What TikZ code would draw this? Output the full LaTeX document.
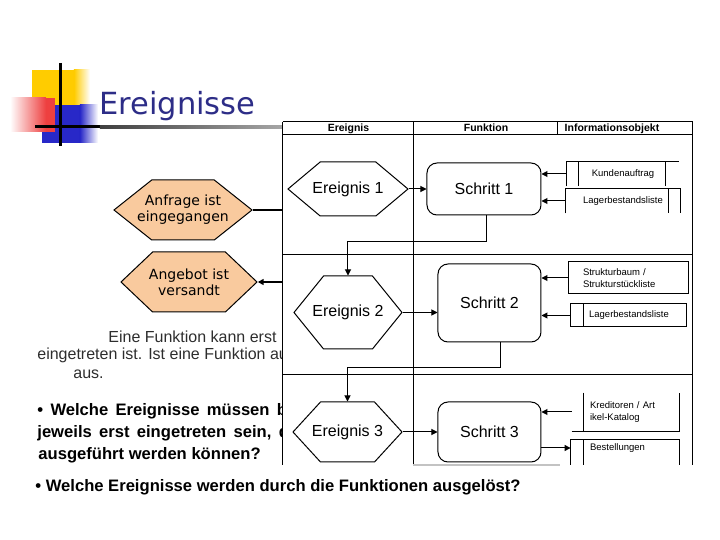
\documentclass[tikz,border=0pt]{standalone}
\usepackage{fontspec}
\setmainfont{Liberation Sans}
\newfontfamily\titlefont{DejaVu Sans}
\usepackage{tikz}
\usetikzlibrary{arrows.meta,calc,shapes.symbols}
\definecolor{titleblue}{RGB}{45,45,135}
\definecolor{decoyellow}{RGB}{255,204,0}
\definecolor{decoblue}{RGB}{40,40,200}
\definecolor{decored}{RGB}{235,30,30}
\definecolor{peach}{RGB}{249,202,158}
\definecolor{notegrey}{RGB}{45,45,45}
\definecolor{edgegrey}{RGB}{195,195,195}
\tikzset{
  >={Triangle[length=3pt,width=3pt]},
  flow/.style={->, line width=0.5pt, draw=black},
  thickflow/.style={line width=1pt, draw=black},
  lane/.style={line width=0.5pt, draw=black},
  hexa/.style={
    shape=signal, signal to=east and west,
    draw=black, line width=0.5pt, fill=white,
    inner xsep=-25pt, inner ysep=0pt, align=center,
    font=\fontsize{8}{9}\selectfont
  },
  trigger/.style={hexa, fill=peach, font=\titlefont\fontsize{7}{8}\selectfont},
  stepbox/.style={
    draw=black, line width=0.5pt, rounded corners=5pt,
    fill=white, align=center, inner sep=0pt,
    font=\fontsize{8}{9}\selectfont
  },
  infobox/.style={inner ysep=0pt, font=\fontsize{4.75}{6}\selectfont},
  colhead/.style={inner sep=0pt, font=\bfseries\fontsize{5.25}{6}\selectfont},
  notetext/.style={anchor=base west, inner sep=0pt, text=notegrey, font=\fontsize{8}{9}\selectfont},
  question/.style={anchor=base west, inner sep=0pt, font=\bfseries\fontsize{8.3}{10}\selectfont},
  justline/.style={question, font={\bfseries\fontsize{8.3}{10}\selectfont\spaceskip=0.44em\relax}}
}
\begin{document}
\begin{tikzpicture}[x=0.5pt, y=-0.5pt]
  \useasboundingbox (0,0) rectangle (720,540);

  % slide decoration
  \fill[decoyellow] (32,70) rectangle (74,105);
  \shade[left color=decoyellow, right color=white] (74,70) rectangle (90,105);
  \fill[decoblue] (42,105) rectangle (80,143);
  \shade[left color=decoblue, right color=white] (80,105) rectangle (98,143);
  \shade[left color=white, right color=decored!85] (10,98) rectangle (46,132);
  \fill[decored!85] (46,98) rectangle (55,132);
  \draw[line width=1.5pt] (61,63) -- (61,146);
  \fill[black] (35,125.5) rectangle (100,128.5);
  \shade[left color=black!75, right color=black!35] (100,125.5) rectangle (282,128.5);
  \node[anchor=base west, inner sep=0pt, text=titleblue, font=\titlefont\fontsize{15.25}{18}\selectfont] (title) at (99,115) {Ereignisse};

  % left events
  \node[trigger, minimum width=69pt, minimum height=30pt, signal pointer angle=77] (anfrage) at (183,210) {Anfrage ist\\eingegangen};
  \node[trigger, minimum width=68pt, minimum height=30pt, signal pointer angle=87] (angebot) at (189,282) {Angebot ist\\versandt};

  % text behind the diagram
  \begin{scope}
    \clip (0,300) rectangle (283,470);
    \node[notetext] (note1) at (108,343) {Eine Funktion kann erst};
    \node[notetext] (note2) at (37,360) {eingetreten ist. Ist eine Funktion au};
    \node[notetext] (note3) at (73,379) {aus.};
    \node[justline] (frage1) at (37,416) {• Welche Ereignisse müssen b};
    \node[justline] (frage2) at (37,438) {jeweils erst eingetreten sein, d};
    \node[question] (frage3) at (38,460) {ausgeführt werden können?};
  \end{scope}
  \node[question] (frage4) at (35,492) {• Welche Ereignisse werden durch die Funktionen ausgelöst?};

  % swimlanes
  \draw[lane] (283,122) -- (693,122);
  \draw[lane] (283,135) -- (693,135);
  \foreach \x in {283,414,693}{
    \draw[lane] (\x,122) -- (\x,465);
  }
  \draw[lane] (558,122) -- (558,135);
  \draw[lane] (283,255) -- (693,255);
  \draw[lane] (283,375) -- (693,375);
  \draw[edgegrey, line width=0.75pt] (413,465) -- (560,465);
  \node[colhead] (hdEreignis) at (348.5,128.5) {Ereignis};
  \node[colhead] (hdFunktion) at (486,128) {Funktion};
  \node[colhead] (hdInfo) at (612,128.5) {Informationsobjekt};

  % events and functions
  \node[hexa, minimum width=60pt, minimum height=27pt, signal pointer angle=80] (e1) at (348,189) {Ereignis 1};
  \node[hexa, minimum width=54pt, minimum height=36.5pt, signal pointer angle=102] (e2) at (348,312.5) {Ereignis 2};
  \node[hexa, minimum width=54.5pt, minimum height=30pt, signal pointer angle=95] (e3) at (347.5,432) {Ereignis 3};
  \node[stepbox, minimum width=57pt, minimum height=26pt] (s1) at (484,189) {Schritt 1};
  \node[stepbox, minimum width=51.5pt, minimum height=39pt] (s2) at (489.5,303) {Schritt 2};
  \node[stepbox, minimum width=51.5pt, minimum height=30pt] (s3) at (489.5,432) {Schritt 3};

  % information objects
  \node[infobox, minimum width=56pt, minimum height=12pt] (ka) at (623,174) {Kundenauftrag};
  \draw[lane] (ka.south west) -- (ka.north west) -- (ka.north east);
  \draw[lane] ($(ka.north west)+(12,0)$) -- ($(ka.south west)+(12,0)$);
  \draw[lane] ($(ka.north east)+(-14,0)$) -- ($(ka.south east)+(-14,0)$);
  \node[infobox, minimum width=57pt, minimum height=12pt] (lb1) at (623,201) {Lagerbestandsliste};
  \draw[lane] (lb1.south west) -- (lb1.north west) -- (lb1.north east) -- (lb1.south east);
  \draw[lane] ($(lb1.north east)+(-12,0)$) -- ($(lb1.south east)+(-12,0)$);
  \node[infobox, draw=black, line width=0.5pt, minimum height=16pt, inner xsep=7pt, text width=46pt, align=left] (sb) at (629,278) {Strukturbaum /\\Strukturstückliste};
  \node[infobox, draw=black, line width=0.5pt, minimum width=58pt, minimum height=11.5pt] (lb2) at (629,315.5) {Lagerbestandsliste};
  \draw[lane] ($(lb2.north west)+(13,0)$) -- ($(lb2.south west)+(13,0)$);
  \node[infobox, minimum height=19pt, inner xsep=9pt, text width=35.5pt, align=left] (kr) at (625.5,412) {Kreditoren / Art\\ikel-Katalog};
  \draw[lane] ($(kr.north west)+(12,0)$) -- ($(kr.south west)+(12,0)$);
  \draw[lane] (kr.south west) -- (kr.south east) -- (kr.north east);
  \node[infobox, minimum height=8pt, inner xsep=9.5pt, text width=35pt, align=left] (be) at (625,448) {Bestellungen};
  \coordinate (cut) at (0,465);
  \draw[lane] (be.north west |- cut) -- (be.north west) -- (be.north east) -- (be.north east |- cut);
  \draw[lane] ($(be.north west)+(13,0)$) -- ($(be.north west |- cut)+(13,0)$);

  % connectors
  \coordinate (edgeA) at (283,210);
  \coordinate (edgeB) at (283,282);
  \draw[thickflow] (anfrage.east) -- (edgeA);
  \draw[thickflow, ->] (edgeB) -- (angebot.east);
  \draw[flow] (e1.east) -- (e1.east -| s1.west);
  \draw[flow] (ka.west) -- (ka.west -| s1.east);
  \draw[flow] (lb1.west) -- (lb1.west -| s1.east);
  \draw[flow] ([xshift=1.5pt]s1.south) -- ++(0,26) -| (e2.north);
  \draw[flow] (e2.east) -- (e2.east -| s2.west);
  \draw[flow] (sb.west) -- (sb.west -| s2.east);
  \draw[flow] (lb2.west) -- (lb2.west -| s2.east);
  \draw[flow] ([xshift=5.5pt]s2.south) -- ++(0,25) -| (e3.north);
  \draw[flow] (e3.east) -- (e3.east -| s3.west);
  \draw[flow] (kr.west) -- (kr.west -| s3.east);
  \draw[flow] (s3.east |- be.west) -- (be.west);
\end{tikzpicture}
\end{document}
